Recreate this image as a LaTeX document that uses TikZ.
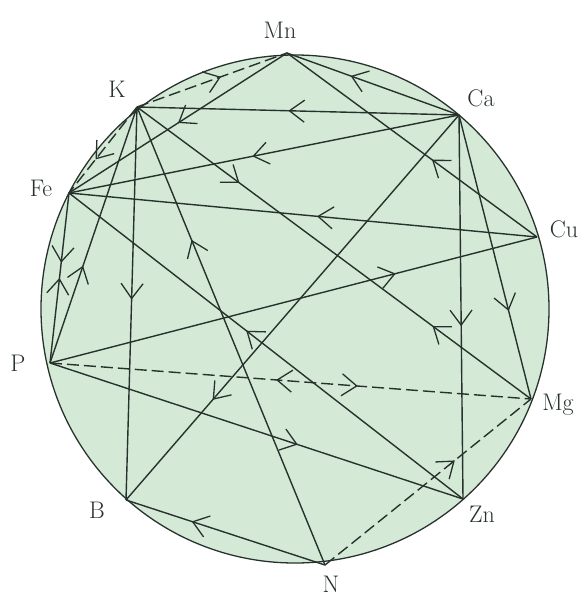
\documentclass[tikz,border=0pt]{standalone}
\usepackage{fontspec}
\usepackage{tikz}
\usetikzlibrary{arrows.meta, decorations.markings}

\definecolor{disc}{RGB}{212,234,215}
\definecolor{ink}{RGB}{40,50,45}

\begin{document}
\begin{tikzpicture}[
  x=1pt, y=-1pt,
  chev/.tip={Straight Barb[length=15pt, width=22pt, line width=1.3pt]},
  link/.style={draw=ink, line width=1.4pt},
  weak/.style={dash pattern=on 12pt off 5pt},
  tipat/.style={postaction={decorate, decoration={markings,
    mark=at position #1 with {\pgfsetdash{}{0pt}\arrow{chev}}}}},
  tipback/.style={postaction={decorate, decoration={markings,
    mark=at position #1 with {\pgfsetdash{}{0pt}\arrowreversed{chev}}}}},
  elem/.style={font=\fontsize{24}{28}\selectfont, text=ink, inner sep=0pt}
]
\useasboundingbox (0,0) rectangle (582,599);

% the wheel
\filldraw[fill=disc, draw=ink, line width=1.3pt] (295,309) circle (254);

% elements on the rim
\coordinate (Mn) at (287,53);
\coordinate (K)  at (137,107);
\coordinate (Ca) at (459,115);
\coordinate (Fe) at (69,193);
\coordinate (Cu) at (537,237);
\coordinate (P)  at (50,363);
\coordinate (Mg) at (531,399);
\coordinate (Zn) at (463,499);
\coordinate (N)  at (325,565);
\coordinate (B)  at (126,500);

\node[elem] (Mn-l) at (280,30)  {Mn};
\node[elem] (K-l)  at (117,89)  {K};
\node[elem] (Ca-l) at (481,98)  {Ca};
\node[elem] (Fe-l) at (41,188)  {Fe};
\node[elem] (Cu-l) at (564,229) {Cu};
\node[elem] (P-l)  at (18,363)  {P};
\node[elem] (Mg-l) at (558,405) {Mg};
\node[elem] (Zn-l) at (482,514) {Zn};
\node[elem] (N-l)  at (331,584) {N};
\node[elem] (B-l)  at (97,510)  {B};

% interactions
\draw[link, weak, tipat=0.56] (K) -- (Mn);
\draw[link, tipat=0.50] (Mn) -- (Fe);
\draw[link, tipat=0.63] (Ca) -- (Mn);
\draw[link, tipat=0.42] (Cu) -- (Mn);
\draw[link, tipat=0.53] (Ca) -- (K);
\draw[link, tipat=0.53] (Ca) -- (Fe);
\draw[link, tipat=0.74] (Ca) -- (B);
\draw[link, tipat=0.55] (Ca) -- (Zn);
\draw[link, tipat=0.69] (Ca) -- (Mg);
\draw[link, tipat=0.47] (Cu) -- (Fe);
\draw[link, tipat=0.71] (P) -- (Cu);
\draw[link, tipat=0.26, tipback=0.75] (K) -- (Mg);
\draw[link, weak, tipat=0.61] (K) -- (Fe);
\draw[link, tipat=0.38] (P) -- (K);
\draw[link, tipat=0.49] (K) -- (B);
\draw[link, tipat=0.71] (N) -- (K);
\draw[link, tipat=0.41, tipback=0.50] (Fe) -- (P);
\draw[link, tipat=0.55] (Zn) -- (Fe);
\draw[link, tipat=0.60] (P) -- (Zn);
\draw[link, weak, tipat=0.64, tipback=0.47] (P) -- (Mg);
\draw[link, weak, tipat=0.63] (N) -- (Mg);
\draw[link, tipat=0.67] (N) -- (B);
\end{tikzpicture}
\end{document}
